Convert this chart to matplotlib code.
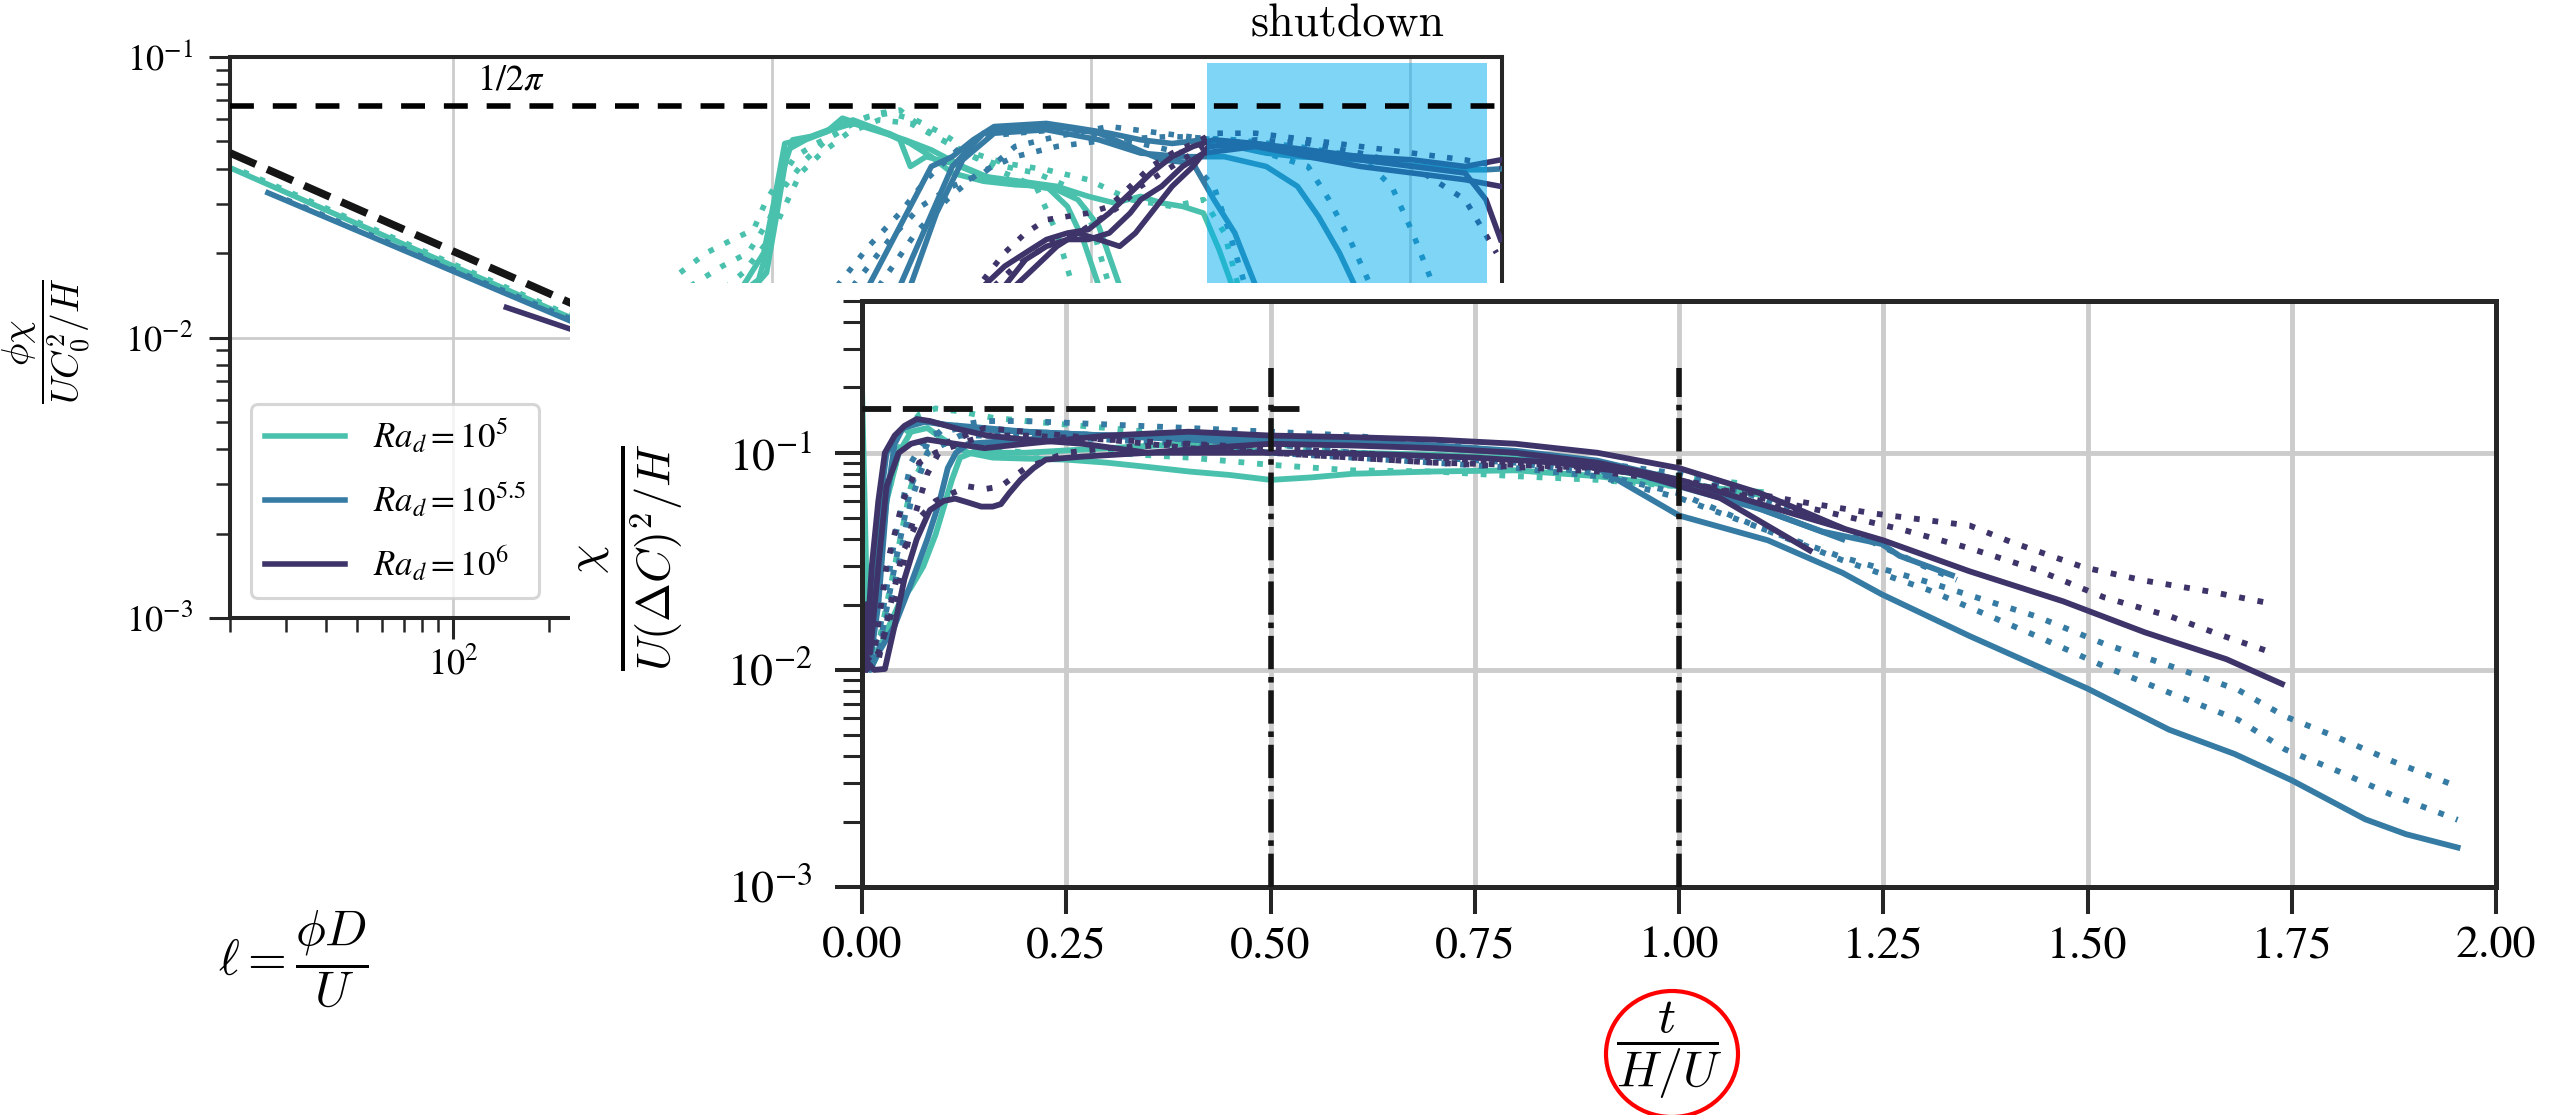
import numpy as np
import matplotlib
matplotlib.use('Agg')
import matplotlib.pyplot as plt
from matplotlib.patches import Rectangle, Ellipse
from matplotlib.ticker import FormatStrFormatter, NullLocator

plt.rcParams['font.family'] = 'serif'
plt.rcParams['font.serif'] = ['STIXGeneral', 'DejaVu Serif']
plt.rcParams['mathtext.fontset'] = 'stix'

c5, c55, c6 = '#4ac1ad', '#357ba3', '#3e3469'
ink = '#262626'
dot = (0, (1, 2.2))
inv_2pi = 1 / (2 * np.pi)

# ---- dissipation vs length scale (top left panel) ----
ell_5a = [20, 70, 240]
phichi_5a = [0.0403, 0.0215, 0.0116]
ell_5b = [22, 240]
phichi_5b = [0.039, 0.0118]
ell_55a = [26.3, 240]
phichi_55a = [0.0328, 0.0113]
ell_55b = [30, 240]
phichi_55b = [0.031, 0.0115]
ell_6a = [147, 240]
phichi_6a = [0.0128, 0.0106]
ell_fit = [20, 240]
phichi_fit = [0.0455, 0.0131]

# ---- runs behind the top panel ----
ell_rT1 = [647, 811, 942, 1017, 1096, 1274, 1483, 1661, 1861, 2333, 2713, 3156, 3671, 4604, 5776, 7244, 8426, 9437, 10570]
chi_rT1 = [0.0325, 0.0363, 0.0477, 0.0738, 0.117, 0.122, 0.129, 0.144, 0.138, 0.127, 0.117, 0.105, 0.0918, 0.0858, 0.0834, 0.0823, 0.0698, 0.0532, 0.0363]
ell_rT2 = [752, 908, 997, 1076, 1160, 1324, 1600, 1792, 2164, 2516, 2713, 3039, 3671, 4604, 5998, 7813, 9800, 11840, 14300, 16630, 19350, 22490, 25170, 28210]
chi_rT2 = [0.0325, 0.0383, 0.0561, 0.0918, 0.1206, 0.124, 0.1345, 0.142, 0.131, 0.1206, 0.0969, 0.105, 0.0995, 0.0893, 0.0858, 0.0823, 0.0758, 0.0718, 0.0758, 0.0718, 0.0698, 0.0661, 0.049, 0.0343]
ell_rT3 = [811, 961, 1036, 1117, 1274, 1540, 1792, 2164, 2612, 3156, 3959, 4966, 6229, 7813, 9087, 10570, 12290]
chi_rT3 = [0.0325, 0.0405, 0.0661, 0.111, 0.1206, 0.131, 0.138, 0.129, 0.1206, 0.111, 0.0969, 0.0869, 0.0834, 0.080, 0.0738, 0.0593, 0.0363]
ell_rT4 = [515, 623, 752, 875, 961, 1056, 1182, 1375, 1600, 1861, 2164, 2516, 2926, 3404, 4270, 5355, 6718, 8426, 9800, 11400]
chi_rT4 = [0.0405, 0.0477, 0.0532, 0.0577, 0.0738, 0.0869, 0.105, 0.117, 0.1273, 0.142, 0.150, 0.154, 0.1345, 0.1206, 0.105, 0.0969, 0.0918, 0.0823, 0.0661, 0.0363]
ell_rT5 = [555, 697, 842, 979, 1096, 1274, 1483, 1725, 2007, 2333, 2818, 3404, 4270, 5355, 7244, 9800, 13260, 17940, 22490, 26160, 29280]
chi_rT5 = [0.0363, 0.0427, 0.0477, 0.0626, 0.0823, 0.1023, 0.1206, 0.1345, 0.146, 0.150, 0.142, 0.1273, 0.1081, 0.0995, 0.0943, 0.0869, 0.0738, 0.0698, 0.0738, 0.0561, 0.0343]
ell_rT6 = [646, 811, 979, 1096, 1227, 1428, 1725, 2164, 2713, 3404, 4270, 5355, 6718, 7813, 8750]
chi_rT6 = [0.0325, 0.0405, 0.0532, 0.0698, 0.0918, 0.1081, 0.1273, 0.142, 0.138, 0.1206, 0.105, 0.0918, 0.0823, 0.0561, 0.0363]

ell_rB1 = [2007, 2333, 2713, 3156, 3671, 4270, 4966, 7244, 9087, 11400, 14300, 17940, 22490, 28210, 35380, 44340, 55640, 69820, 87550, 109800, 137700, 172800, 192000]
chi_rB1 = [0.0363, 0.0503, 0.0698, 0.0969, 0.105, 0.1206, 0.1345, 0.138, 0.1327, 0.1273, 0.1206, 0.117, 0.1206, 0.1142, 0.1081, 0.105, 0.1037, 0.1023, 0.0995, 0.0969, 0.0943, 0.0943, 0.095]
ell_rB2 = [2516, 3039, 3671, 4604, 5776, 7813, 10570, 13260, 16630, 20860, 24260, 28210, 30420, 32810]
chi_rB2 = [0.0363, 0.0593, 0.0969, 0.1273, 0.1327, 0.1345, 0.1273, 0.1142, 0.1023, 0.0995, 0.0738, 0.0561, 0.0451, 0.0363]
ell_rB3 = [2713, 3277, 3959, 4966, 7244, 10570, 14300, 19350, 26160, 35380, 44340, 51590, 60010, 67190]
chi_rB3 = [0.0363, 0.0661, 0.1023, 0.1273, 0.131, 0.1206, 0.1081, 0.105, 0.105, 0.0969, 0.0823, 0.0643, 0.0477, 0.0363]
ell_rB4 = [1600, 2007, 2516, 3039, 3812, 4604, 5776, 7813, 10570, 14300, 19350, 24260, 27160, 30420]
chi_rB4 = [0.0363, 0.0503, 0.0661, 0.0869, 0.111, 0.124, 0.1273, 0.131, 0.124, 0.117, 0.1081, 0.0823, 0.0561, 0.0363]
ell_rB5 = [1792, 2333, 2926, 3671, 4604, 5776, 7813, 11400, 16630, 24260, 35380, 47860, 55640, 64710, 75270]
chi_rB5 = [0.0363, 0.0532, 0.0698, 0.0823, 0.0918, 0.1142, 0.124, 0.1345, 0.1273, 0.1206, 0.1081, 0.0969, 0.0738, 0.0532, 0.0363]
ell_rB6 = [2164, 2818, 3535, 4434, 5776, 7813, 11400, 17940, 28210, 44340, 69820, 87550, 101900, 118400]
chi_rB6 = [0.0363, 0.0561, 0.0738, 0.0918, 0.105, 0.1142, 0.1206, 0.124, 0.1206, 0.1142, 0.105, 0.0823, 0.0561, 0.0363]

ell_rP1 = [4604, 5355, 6229, 7244, 8426, 9800, 11400, 13260, 15420, 17940, 20860, 24260, 32810, 47860, 69820, 101900, 148600, 192000]
chi_rP1 = [0.0363, 0.0427, 0.0477, 0.0532, 0.0561, 0.0577, 0.0661, 0.0779, 0.0918, 0.105, 0.1142, 0.1206, 0.117, 0.111, 0.105, 0.1023, 0.0969, 0.1023]
ell_rP2 = [5355, 6229, 7244, 8426, 9800, 11400, 13260, 14300, 16630, 19350, 22490, 32810, 47860, 69820, 101900, 148600, 192000]
chi_rP2 = [0.0363, 0.0451, 0.0503, 0.0532, 0.0532, 0.0561, 0.0661, 0.0738, 0.0823, 0.0969, 0.1081, 0.1142, 0.105, 0.0969, 0.0918, 0.0869, 0.0823]
ell_rP3 = [5776, 6718, 7813, 9087, 10570, 12290, 13770, 15420, 17940, 20860, 23360, 32810, 47860, 69820, 101900, 148600, 172800, 192000]
chi_rP3 = [0.0363, 0.0427, 0.0503, 0.0561, 0.0532, 0.0503, 0.0561, 0.0661, 0.0823, 0.0969, 0.1142, 0.117, 0.1081, 0.1023, 0.0969, 0.0918, 0.0738, 0.0532]
ell_rP4 = [4604, 5355, 6229, 7244, 8426, 9800, 11400, 13260, 15420, 17940, 20860, 24260, 32810, 47860, 69820, 101900, 148600, 192000]
chi_rP4 = [0.0383, 0.0477, 0.0561, 0.0626, 0.0643, 0.0661, 0.0698, 0.0823, 0.0969, 0.1081, 0.117, 0.1273, 0.1273, 0.1206, 0.1142, 0.1081, 0.1023, 0.0969]
ell_rP5 = [4966, 5776, 6718, 7813, 9087, 10570, 12290, 14300, 16630, 19350, 22490, 32810, 47860, 69820, 101900, 148600, 186400]
chi_rP5 = [0.0363, 0.0427, 0.0477, 0.0532, 0.0561, 0.0626, 0.0698, 0.0823, 0.0918, 0.1023, 0.1142, 0.1206, 0.117, 0.1081, 0.0969, 0.0738, 0.0477]

shutdown_ell = (23100, 174000)

# ---- normalised dissipation vs time (main panel) ----
t_m5a = [0.0, 0.005, 0.01, 0.02, 0.03, 0.045, 0.06, 0.08, 0.1, 0.13, 0.16, 0.2, 0.25, 0.3, 0.35, 0.4, 0.45, 0.5, 0.55, 0.6, 0.7, 0.8, 0.9, 1.0, 1.05, 1.1]
chi_m5a = [0.2, 0.03, 0.011, 0.025, 0.06, 0.1, 0.125, 0.13, 0.115, 0.1, 0.095, 0.094, 0.093, 0.09, 0.086, 0.082, 0.079, 0.075, 0.077, 0.08, 0.082, 0.083, 0.078, 0.07, 0.068, 0.066]
t_m5b = [0.0, 0.01, 0.02, 0.03, 0.045, 0.06, 0.075, 0.09, 0.1, 0.11, 0.12, 0.14, 0.17, 0.2, 0.3, 0.4, 0.5, 0.6, 0.7, 0.8, 0.9, 1.0, 1.1]
chi_m5b = [0.012, 0.01, 0.012, 0.015, 0.02, 0.024, 0.03, 0.042, 0.056, 0.075, 0.095, 0.102, 0.1, 0.1, 0.105, 0.11, 0.1, 0.1, 0.098, 0.094, 0.086, 0.073, 0.064]
t_m5c = [0.005, 0.015, 0.03, 0.05, 0.07, 0.09, 0.12, 0.16, 0.2, 0.3, 0.4, 0.5, 0.6, 0.7, 0.8, 0.9, 1.0, 1.08]
chi_m5c = [0.012, 0.02, 0.06, 0.12, 0.15, 0.16, 0.155, 0.145, 0.14, 0.13, 0.12, 0.11, 0.1, 0.095, 0.09, 0.085, 0.078, 0.072]
t_m5d = [0.005, 0.02, 0.04, 0.06, 0.08, 0.1, 0.15, 0.2, 0.3, 0.4, 0.5, 0.6, 0.7, 0.8, 0.9, 1.0, 1.1]
chi_m5d = [0.01, 0.013, 0.03, 0.07, 0.1, 0.11, 0.105, 0.1, 0.1, 0.095, 0.088, 0.083, 0.082, 0.078, 0.075, 0.07, 0.066]

t_m55a = [0.0, 0.01, 0.02, 0.03, 0.04, 0.05, 0.07, 0.1, 0.15, 0.2, 0.3, 0.4, 0.5, 0.6, 0.7, 0.8, 0.9, 1.0, 1.109, 1.2, 1.248, 1.356, 1.5, 1.6, 1.68, 1.75, 1.84, 1.89, 1.953]
chi_m55a = [0.012, 0.011, 0.02, 0.06, 0.11, 0.13, 0.14, 0.135, 0.13, 0.125, 0.12, 0.12, 0.115, 0.112, 0.108, 0.1, 0.085, 0.0514, 0.0395, 0.028, 0.0223, 0.0143, 0.0082, 0.0053, 0.0041, 0.0031, 0.00205, 0.00175, 0.00152]
t_m55b = [0.0, 0.01, 0.02, 0.03, 0.05, 0.08, 0.12, 0.2, 0.3, 0.4, 0.5, 0.6, 0.7, 0.8, 0.9, 1.0, 1.1, 1.175, 1.248, 1.27, 1.334]
chi_m55b = [0.011, 0.013, 0.05, 0.1, 0.13, 0.14, 0.13, 0.125, 0.12, 0.115, 0.11, 0.11, 0.108, 0.102, 0.092, 0.075, 0.055, 0.0434, 0.038, 0.0335, 0.0273]
t_m55c = [0.0, 0.01, 0.02, 0.04, 0.06, 0.08, 0.095, 0.105, 0.115, 0.13, 0.2, 0.3, 0.4, 0.5, 0.6, 0.7, 0.8, 0.9, 1.0, 1.1, 1.2]
chi_m55c = [0.012, 0.01, 0.012, 0.016, 0.025, 0.04, 0.06, 0.085, 0.1, 0.11, 0.115, 0.12, 0.12, 0.118, 0.11, 0.105, 0.1, 0.09, 0.07, 0.055, 0.04]
t_m55d = [0.005, 0.02, 0.04, 0.06, 0.08, 0.12, 0.2, 0.3, 0.4, 0.5, 0.6, 0.7, 0.8, 0.9, 1.0, 1.1, 1.2, 1.306, 1.438, 1.52, 1.602, 1.684, 1.742, 1.808, 1.873, 1.953]
chi_m55d = [0.011, 0.014, 0.04, 0.09, 0.12, 0.13, 0.125, 0.12, 0.115, 0.11, 0.1, 0.095, 0.09, 0.08, 0.065, 0.045, 0.033, 0.0253, 0.0176, 0.0132, 0.0104, 0.0081, 0.0061, 0.00485, 0.0038, 0.0029]
t_m55e = [0.005, 0.02, 0.04, 0.06, 0.08, 0.12, 0.2, 0.3, 0.4, 0.5, 0.6, 0.7, 0.8, 0.9, 1.0, 1.1, 1.2, 1.306, 1.438, 1.52, 1.602, 1.684, 1.742, 1.808, 1.873, 1.953]
chi_m55e = [0.01, 0.012, 0.025, 0.06, 0.1, 0.12, 0.12, 0.115, 0.11, 0.1, 0.095, 0.09, 0.085, 0.078, 0.062, 0.045, 0.032, 0.0233, 0.0143, 0.0104, 0.0078, 0.0059, 0.0043, 0.0034, 0.00265, 0.00204]
t_m55f = [0.005, 0.02, 0.04, 0.06, 0.08, 0.1, 0.15, 0.2, 0.3, 0.4, 0.5, 0.6, 0.7, 0.8, 0.9, 1.0, 1.1, 1.2, 1.3, 1.34]
chi_m55f = [0.011, 0.012, 0.03, 0.07, 0.11, 0.13, 0.14, 0.14, 0.135, 0.13, 0.125, 0.12, 0.11, 0.1, 0.09, 0.08, 0.062, 0.045, 0.03, 0.026]

t_m6a = [0.004, 0.012, 0.02, 0.028, 0.04, 0.052, 0.067, 0.083, 0.12, 0.153, 0.2, 0.27, 0.35, 0.42, 0.5, 0.6, 0.7, 0.8, 0.9, 1.0, 1.1, 1.25, 1.355, 1.47, 1.57, 1.67, 1.738]
chi_m6a = [0.01, 0.03, 0.06, 0.1, 0.12, 0.133, 0.143, 0.14, 0.128, 0.12, 0.115, 0.11, 0.1, 0.105, 0.11, 0.108, 0.105, 0.1, 0.09, 0.0752, 0.058, 0.0395, 0.0285, 0.0207, 0.0149, 0.0112, 0.00862]
t_m6b = [0.005, 0.015, 0.028, 0.04, 0.052, 0.067, 0.083, 0.1, 0.114, 0.13, 0.146, 0.16, 0.17, 0.18, 0.194, 0.21, 0.225, 0.27, 0.35, 0.45, 0.55, 0.65, 0.75, 0.85, 0.95, 1.05, 1.16]
chi_m6b = [0.011, 0.01, 0.0101, 0.016, 0.0263, 0.04, 0.0544, 0.06, 0.0615, 0.059, 0.0565, 0.0565, 0.058, 0.065, 0.075, 0.085, 0.093, 0.096, 0.1, 0.1, 0.1, 0.098, 0.095, 0.09, 0.08, 0.062, 0.0355]
t_m6c = [0.003, 0.01, 0.02, 0.03, 0.045, 0.06, 0.08, 0.1, 0.15, 0.2, 0.3, 0.4, 0.5, 0.6, 0.7, 0.8, 0.9, 1.0, 1.1, 1.2]
chi_m6c = [0.02, 0.012, 0.03, 0.07, 0.1, 0.11, 0.115, 0.112, 0.105, 0.11, 0.12, 0.125, 0.12, 0.118, 0.115, 0.11, 0.1, 0.085, 0.065, 0.045]
t_m6d = [0.005, 0.015, 0.03, 0.05, 0.07, 0.09, 0.12, 0.15, 0.2, 0.3, 0.4, 0.5, 0.6, 0.7, 0.8, 0.9, 1.0, 1.142, 1.242, 1.356, 1.405, 1.495, 1.569, 1.651, 1.725]
chi_m6d = [0.011, 0.012, 0.03, 0.06, 0.09, 0.1, 0.11, 0.12, 0.12, 0.115, 0.105, 0.1, 0.095, 0.09, 0.088, 0.085, 0.075, 0.060, 0.0523, 0.0462, 0.039, 0.0297, 0.0258, 0.0229, 0.0202]
t_m6e = [0.005, 0.02, 0.04, 0.06, 0.08, 0.1, 0.15, 0.2, 0.3, 0.4, 0.5, 0.6, 0.7, 0.8, 0.9, 1.0, 1.1, 1.175, 1.272, 1.356, 1.438, 1.52, 1.602, 1.667, 1.729]
chi_m6e = [0.01, 0.012, 0.02, 0.045, 0.08, 0.11, 0.13, 0.125, 0.115, 0.11, 0.1, 0.095, 0.09, 0.086, 0.082, 0.074, 0.062, 0.054, 0.0444, 0.0363, 0.0289, 0.0216, 0.0176, 0.0143, 0.0119]
t_m6f = [0.005, 0.02, 0.035, 0.05, 0.07, 0.09, 0.11, 0.13, 0.15, 0.17, 0.2, 0.25, 0.3, 0.4, 0.5, 0.6, 0.7, 0.8, 0.9, 1.0, 1.1, 1.2]
chi_m6f = [0.01, 0.011, 0.02, 0.035, 0.05, 0.06, 0.065, 0.07, 0.068, 0.07, 0.085, 0.1, 0.105, 0.11, 0.105, 0.1, 0.095, 0.09, 0.085, 0.075, 0.06, 0.045]

t_marks = [0.5, 1.0]

W, H = 2552, 1115


def px_box(x0, y0, x1, y1):
    return [x0 / W, 1 - y1 / H, (x1 - x0) / W, (y1 - y0) / H]


fig = plt.figure(figsize=(W / 100, H / 100), dpi=100)

# top-left panel
ax_ell = fig.add_axes(px_box(230, 57, 1502, 618))
ax_ell.set_xscale('log')
ax_ell.set_yscale('log')
ax_ell.set_xlim(20, 1.94e5)
ax_ell.set_ylim(1e-3, 1e-1)
ax_ell.grid(True, which='major', color='#cccccc', lw=2)
ax_ell.set_axisbelow(True)
ax_ell.plot(ell_5a, phichi_5a, color=c5, lw=4, label=r'$Ra_d = 10^5$')
ax_ell.plot(ell_55a, phichi_55a, color=c55, lw=4, label=r'$Ra_d = 10^{5.5}$')
ax_ell.plot(ell_6a, phichi_6a, color=c6, lw=4, label=r'$Ra_d = 10^6$')
ax_ell.plot(ell_5b, phichi_5b, color=c5, lw=4, ls=dot)
ax_ell.plot(ell_55b, phichi_55b, color=c55, lw=4, ls=dot)
ax_ell.plot(ell_fit, phichi_fit, color='#151515', lw=5.5, ls='--', zorder=4)
for s in ax_ell.spines.values():
    s.set_linewidth(2.9)
    s.set_color(ink)
ax_ell.tick_params(which='major', length=15, width=2.2, color=ink, labelsize=26)
ax_ell.tick_params(which='minor', length=10, width=1.8, color=ink)
ax_ell.tick_params(axis='x', which='major', pad=6)
ax_ell.tick_params(axis='y', which='major', pad=12)
ax_ell.set_ylabel(r'$\dfrac{\phi\chi}{UC_0^2/H}$', fontsize=27, math_fontfamily='cm')
ax_ell.yaxis.set_label_coords(-0.1447, 0.494)
ax_ell.yaxis.label.set_va('center')
ax_ell.set_xlabel(r'$\ell = \dfrac{\phi D}{U}$', fontsize=36, math_fontfamily='cm')
ax_ell.xaxis.set_label_coords(0.05, -0.608)
ax_ell.xaxis.label.set_va('center')
leg = ax_ell.legend(loc='lower left', bbox_to_anchor=(0.0165, 0.0357), borderaxespad=0,
                    fontsize=25, handlelength=2.3, labelspacing=0.72, framealpha=0.8,
                    edgecolor='#cccccc', fancybox=True)
leg.get_frame().set_linewidth(2.2)

# runs drawn on the same length axis
ax_run = ax_ell.twinx()
ax_run.set_yscale('log')
ax_run.set_ylim(0.00238, 0.238)
ax_run.yaxis.set_major_locator(NullLocator())
ax_run.yaxis.set_minor_locator(NullLocator())
for s in ax_run.spines.values():
    s.set_visible(False)
run_lines = [
    (ell_rT1, chi_rT1, c5, '-'), (ell_rT2, chi_rT2, c5, '-'), (ell_rT3, chi_rT3, c5, '-'),
    (ell_rT4, chi_rT4, c5, dot), (ell_rT5, chi_rT5, c5, dot), (ell_rT6, chi_rT6, c5, dot),
    (ell_rB1, chi_rB1, c55, '-'), (ell_rB2, chi_rB2, c55, '-'), (ell_rB3, chi_rB3, c55, '-'),
    (ell_rB4, chi_rB4, c55, dot), (ell_rB5, chi_rB5, c55, dot), (ell_rB6, chi_rB6, c55, dot),
    (ell_rP1, chi_rP1, c6, '-'), (ell_rP2, chi_rP2, c6, '-'), (ell_rP3, chi_rP3, c6, '-'),
    (ell_rP4, chi_rP4, c6, dot), (ell_rP5, chi_rP5, c6, dot),
]
for x, y, c, ls in run_lines:
    ax_run.plot(x, y, color=c, lw=4, ls=ls)
ax_run.axhline(inv_2pi, color='k', lw=4, ls=(0, (4.3, 3.4)), zorder=4)
ax_run.axvspan(*shutdown_ell, ymin=0, ymax=0.989, facecolor='#00adef', alpha=0.5, lw=0, zorder=3)
ax_run.text(119, inv_2pi * 1.07, r'$1/2\pi$', fontsize=26, va='bottom')
ax_run.text(np.sqrt(shutdown_ell[0] * shutdown_ell[1]), 1.057, 'shutdown',
            transform=ax_run.get_xaxis_transform(), ha='center', va='center',
            fontsize=33, family='cmr10')

# blank out the lower right of the top panel
fig.add_artist(Rectangle((570 / W, 0), 1 - 570 / W, 1 - 283 / H, transform=fig.transFigure,
                         facecolor='white', edgecolor='none', zorder=1))

# main panel
ax = fig.add_axes(px_box(862, 301, 2496, 887))
ax.set_zorder(2)
ax.set_yscale('log')
ax.set_xlim(0, 2)
ax.set_ylim(1e-3, 0.5)
ax.set_xticks(np.arange(0, 2.01, 0.25))
ax.xaxis.set_major_formatter(FormatStrFormatter('%.2f'))
ax.grid(True, which='major', color='#cccccc', lw=3.5)
ax.set_axisbelow(True)
main_lines = [
    (t_m5a, chi_m5a, c5, '-'), (t_m5b, chi_m5b, c5, '-'),
    (t_m5c, chi_m5c, c5, dot), (t_m5d, chi_m5d, c5, dot),
    (t_m55a, chi_m55a, c55, '-'), (t_m55b, chi_m55b, c55, '-'), (t_m55c, chi_m55c, c55, '-'),
    (t_m55d, chi_m55d, c55, dot), (t_m55e, chi_m55e, c55, dot), (t_m55f, chi_m55f, c55, dot),
    (t_m6a, chi_m6a, c6, '-'), (t_m6b, chi_m6b, c6, '-'), (t_m6c, chi_m6c, c6, '-'),
    (t_m6d, chi_m6d, c6, dot), (t_m6e, chi_m6e, c6, dot), (t_m6f, chi_m6f, c6, dot),
]
for x, y, c, ls in main_lines:
    ax.plot(x, y, color=c, lw=4.2, ls=ls)
ax.hlines(inv_2pi, 0, 0.55, color='#151515', lw=4.2, linestyles=[(0, (5, 2))], zorder=4)
ax.vlines(t_marks, 1e-3, 0.245, color='#151515', lw=4, linestyles=[(0, (6, 1.4, 1, 1.4))], zorder=4)
for s in ax.spines.values():
    s.set_linewidth(3.6)
    s.set_color(ink)
ax.tick_params(which='major', length=19.5, width=2.9, color=ink, labelsize=33)
ax.tick_params(which='minor', length=13.7, width=2.2, color=ink)
ax.tick_params(axis='x', which='major', pad=9)
ax.tick_params(axis='y', which='major', pad=16)
ax.set_ylabel(r'$\frac{\chi}{U(\Delta C)^2/H}$', fontsize=48, math_fontfamily='cm')
ax.yaxis.set_label_coords(-0.141, 0.563)
ax.yaxis.label.set_va('center')
ax.set_xlabel(r'$\dfrac{t}{H/U}$', fontsize=36, math_fontfamily='cm')
ax.xaxis.set_label_coords(0.494, -0.278)
ax.xaxis.label.set_va('center')

fig.add_artist(Ellipse((1672 / W, 1 - 1054 / H), 132 / W, 126 / H, transform=fig.transFigure,
                       fill=False, edgecolor='red', lw=3, zorder=5))

fig.savefig('out.png', dpi=100)
